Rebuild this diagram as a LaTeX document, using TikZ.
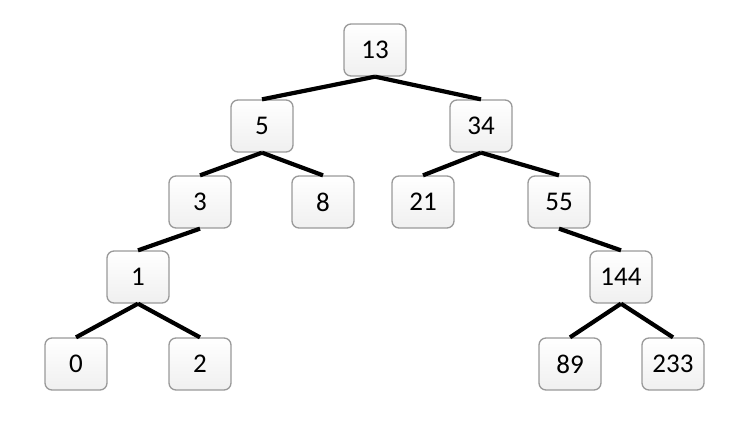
\documentclass[tikz,border=0pt]{standalone}
\usepackage{fontspec}
\setmainfont{Carlito}
\begin{document}
\begin{tikzpicture}[x=1pt,y=-1pt,
  numbox/.style={draw=black!40, line width=1.3pt, rounded corners=7pt,
    minimum width=62pt, minimum height=52pt, inner sep=0pt,
    top color=white, bottom color=black!6, font=\fontsize{27}{31}\selectfont},
  edge/.style={line width=4.2pt, black}]
\useasboundingbox (0,0) rectangle (750,421);
\node[numbox] (n13) at (375,50) {13};
\node[numbox] (n5) at (262,126) {5};
\node[numbox] (n34) at (481,126) {34};
\node[numbox] (n3) at (200,202) {3};
\node[numbox] (n8) at (323,202) {8};
\node[numbox] (n21) at (423,202) {21};
\node[numbox] (n55) at (559,202) {55};
\node[numbox] (n1) at (138,277) {1};
\node[numbox] (n144) at (621,277) {144};
\node[numbox] (n0) at (76,364) {0};
\node[numbox] (n2) at (200,364) {2};
\node[numbox] (n89) at (570,364) {89};
\node[numbox] (n233) at (673,364) {233};
\foreach \p/\c in {n13/n5,n13/n34,n5/n3,n5/n8,n34/n21,n34/n55,n3/n1,n55/n144,n1/n0,n1/n2,n144/n89,n144/n233}
  \draw[edge] (\p.south) -- (\c.north);
\end{tikzpicture}
\end{document}
